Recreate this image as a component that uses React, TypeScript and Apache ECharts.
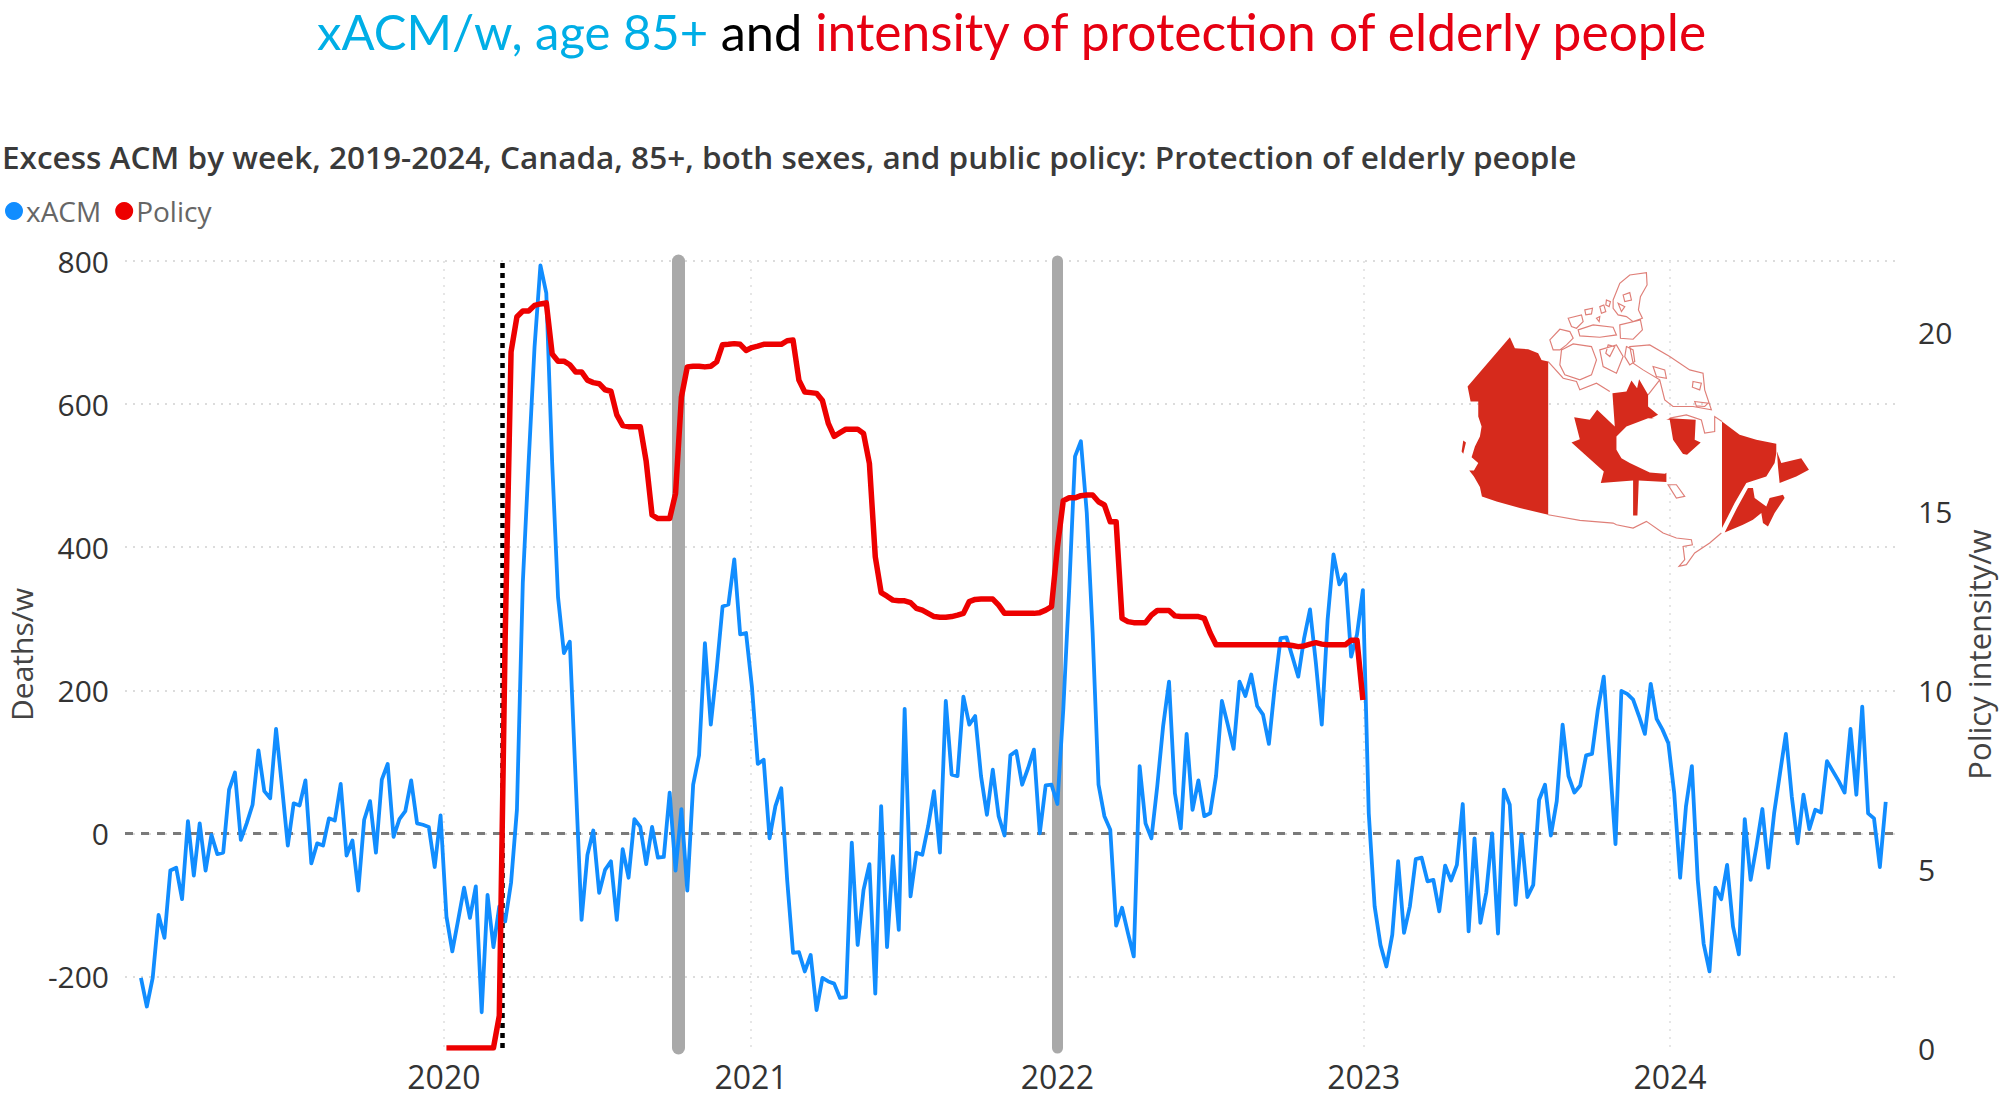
import React, { useEffect, useRef } from "react";
import * as echarts from "echarts";

const xacm = [
-202,-242,-202,-114,-146,-52,-48,-92,17,-59,14,-52,-2,-29,-27,61,85,-9,14,40,116,59,49,146,66,-17,42,39,74,-42,-14,-17,21,18,69,-31,-10,-80,19,45,-27,75,97,-5,20,31,74,14,12,9,-47,25,
-116,-165,-121,-76,-118,-74,-250,-86,-159,-102,-123,-69,33,350,520,680,794,755,518,330,252,268,74,-121,-30,4,-83,-51,-39,-121,-22,-62,20,9,-43,9,-34,-33,57,-52,34,-80,68,109,266,152,229,317,320,383,278,280,205,97,103,-7,38,63,-65,-167,-166,-193,-170,-247,-202,-207,-210,-230,-229,-13,-156,-79,-43,-224,38,-159,-32,-135,174,-88,-27,-30,10,59,-27,185,82,80,191,152,164,80,26,89,24,-3,109,115,68,91,117,0,67,68,41,
173,340,527,548,448,280,68,24,5,-129,-104,-139,-172,94,14,-7,66,150,212,56,7,139,33,74,24,28,80,185,152,118,212,192,222,178,166,125,205,273,274,247,219,273,313,238,152,299,390,348,362,247,278,340,
28,-102,-156,-186,-142,-39,-139,-102,-36,-34,-67,-65,-109,-45,-66,-44,41,-137,-7,-125,-83,0,-140,61,40,-100,-2,-89,-72,47,68,-3,45,152,80,57,67,109,111,173,219,103,-15,199,195,187,164,139,209,160,145,126,56,-62,38,94,-65,-154,-193,-76,-92,-44,-130,-169,20,-65,-18,34,-48,28,84,139,52,-14,54,6,33,29,101,87,73,57,146,54,177,28,21,-47,44,
];

const policyLead = 52;
const policy = [
0,0,0,0,0,0,0,0,0,0.9,11.5,19.46,20.44,20.6,20.6,20.76,20.8,20.83,19.4,19.2,19.2,19.1,18.9,18.9,18.67,18.6,18.57,18.4,18.36,17.7,17.4,17.37,17.37,17.37,16.4,14.9,14.8,14.8,14.8,15.5,18.2,19.04,19.06,19.06,19.04,19.06,19.18,19.66,19.67,19.69,19.67,19.5,19.58,19.62,19.67,19.67,19.67,19.67,19.77,19.79,18.67,18.34,18.32,18.3,18.1,17.46,17.1,17.2,17.3,17.3,17.3,17.18,16.34,13.73,12.73,12.63,12.52,12.5,12.5,12.45,12.29,12.24,12.15,12.06,12.04,12.04,12.06,12.1,12.15,12.48,12.54,12.55,12.55,12.55,12.38,12.15,12.15,12.15,12.15,12.15,12.15,12.17,12.24,12.34,14,15.3,15.38,15.38,15.44,15.46,15.46,15.27,15.18,14.71,14.71,12.01,11.92,11.89,11.89,11.89,12.1,12.23,12.23,12.23,12.08,12.06,12.06,12.06,12.06,12.01,11.6,11.27,11.27,11.27,11.27,11.27,11.27,11.27,11.27,11.27,11.27,11.27,11.27,11.27,11.25,11.22,11.24,11.29,11.33,11.29,11.27,11.27,11.27,11.27,11.4,11.4,9.73,
];

const firstWeek = "2019-01-05";
const yearTicks = ["2020-01-01", "2021-01-01", "2022-01-01", "2023-01-01", "2024-01-01"];
const leftTicks = [-200, 0, 200, 400, 600, 800];
const rightTicks = [0, 5, 10, 15, 20];
const onsetDate = "2020-03-11";
const greyBars = [["2020-10-06", 13], ["2022-01-01", 11]] as [string, number][];

const t = (s: string) => new Date(s + "T00:00:00Z").getTime();
const week = 7 * 86400000;
const blueData = xacm.map((v, i) => [t(firstWeek) + i * week, v]);
const redData = policy.map((v, i) => [t(firstWeek) + (i + policyLead) * week, v]);

const leftBand = "M330,262 L345,295 L385,298 L415,310 L425,330 L445,335 L445,795 L360,775 L290,755 L246,740 L240,712 L222,680 L208,662 L222,662 L235,640 L215,622 L225,590 L240,560 L245,530 L235,500 L235,455 L212,455 L203,410 Z M190,572 L198,578 L190,612 L185,605 Z";
const leaf = "M603,700 L612,665 L515,578 L540,568 L523,502 L570,510 L592,480 L645,530 L638,430 L680,425 L695,392 L712,415 L718,388 L745,435 L745,470 L775,495 L755,505 L790,515 L810,505 L888,510 L885,570 L903,578 L862,615 L840,610 L800,660 L800,697 L717,692 L713,797 L700,797 L700,692 Z";
const hudson = "M650,600 L650,560 L680,530 L745,505 L810,510 L820,570 L855,620 L840,650 L795,672 L750,668 L690,640 L665,625 Z";
const rightBand = "M967,515 L1020,555 L1070,570 L1130,582 L1130,610 L1125,640 L1100,680 L1040,700 L1005,760 L967,835 Z M975,848 L1012,775 L1045,715 L1060,715 L1065,745 L1100,770 L1110,745 L1150,735 L1155,745 L1125,790 L1105,830 L1090,820 L1085,790 L1060,810 L1030,825 Z M1132,605 L1145,640 L1205,625 L1228,660 L1190,680 L1140,700 L1135,650 Z";
const outline = "M445,795 L540,812 L640,820 L650,825 L700,835 L740,815 L790,850 L830,865 L875,870 L878,885 L850,890 L855,930 L838,950 L860,945 L885,910 L930,880 L965,850 M640,150 L660,100 L690,75 L740,68 L742,105 L722,140 L716,180 L728,205 L700,215 L680,200 L655,195 L640,175 Z M505,205 L545,195 L550,215 L530,235 L515,230 Z M535,240 L580,225 L640,232 L650,255 L600,262 L540,258 Z M660,225 L722,210 L728,240 L700,268 L662,265 Z M450,270 L480,238 L510,245 L520,265 L500,285 L480,300 L460,300 Z M485,300 L520,282 L575,290 L590,330 L575,375 L540,390 L495,375 L480,345 Z M600,300 L650,285 L670,320 L650,370 L610,350 Z M690,290 L750,285 L810,320 L870,360 L910,370 L915,420 L935,480 L880,470 L820,470 L795,450 L780,390 L730,360 L700,340 Z M445,335 L490,385 L530,395 L540,420 L590,400 L630,425 M745,435 L780,390 M810,505 L860,495 L905,510 L915,550 L945,545 L945,500 L967,515 M805,705 L830,705 L855,740 L830,745 Z M600,170 L612,165 L618,185 L605,190 Z M555,180 L578,175 L575,192 L558,195 Z M620,150 L632,155 L628,170 L618,165 Z M670,135 L690,128 L695,150 L675,155 Z M590,205 L600,200 L598,215 Z M655,160 L675,170 L665,185 Z M625,285 L645,290 L630,320 L618,310 Z M680,290 L700,300 L705,335 L690,345 L675,320 Z M760,350 L795,360 L800,385 L770,380 Z M880,395 L905,400 L900,420 L878,412 Z M885,455 L925,460 L915,470 L890,468 Z";

echarts.graphic.registerShape("caRed", echarts.graphic.extendPath(leftBand + " " + leaf + " " + rightBand, {}));
echarts.graphic.registerShape("caBay", echarts.graphic.extendPath(hudson, {}));
echarts.graphic.registerShape("caLine", echarts.graphic.extendPath(outline, {}));

export default function App() {
  const ref = useRef<HTMLDivElement>(null);
  useEffect(() => {
    document.body.style.margin = "0";
    const chart = echarts.init(ref.current!, undefined, { renderer: "svg" });
    const tickFont = { fontFamily: "Open Sans", fontSize: 30, color: "#333" };
    const mapPos = { x: 1400, y: 250, scaleX: 1 / 3, scaleY: 1 / 3 };
    const titleRun = { fontFamily: "Lato", fontWeight: "normal" };
    chart.setOption({
      animation: false,
      backgroundColor: "#fff",
      title: [
        {
          text: "{a|xACM/w, age 85+ }{b|and }{c|intensity of protection of elderly people}",
          left: 317,
          top: 5,
          padding: 0,
          textStyle: {
            rich: {
              a: { ...titleRun, fontSize: 49, color: "#00aee6" },
              b: { ...titleRun, fontSize: 50.5, color: "#000" },
              c: { ...titleRun, fontSize: 51.5, color: "#e60012" },
            },
          },
        },
        {
          text: "Excess ACM by week, 2019-2024, Canada, 85+, both sexes, and public policy: Protection of elderly people",
          left: 2,
          top: 140,
          padding: 0,
          textStyle: { fontFamily: "Open Sans", fontSize: 31.5, fontWeight: 600, color: "#3a3a3a" },
        },
      ],
      legend: {
        data: ["xACM", "Policy"],
        left: 0,
        top: 192,
        icon: "circle",
        itemWidth: 18,
        itemHeight: 18,
        itemGap: 14,
        textStyle: { fontFamily: "Open Sans", fontSize: 28, color: "#666", padding: [0, 0, 0, -2] },
      },
      grid: { left: 125, right: 100, top: 261, bottom: 64, outerBoundsMode: "none" },
      xAxis: {
        type: "value",
        min: t("2018-12-17"),
        max: t("2024-10-01"),
        axisLine: { show: false },
        axisTick: { show: false, customValues: yearTicks.map(t) },
        axisLabel: {
          ...tickFont,
          fontSize: 32,
          margin: 12,
          customValues: yearTicks.map(t),
          formatter: (v: number) => String(new Date(v).getUTCFullYear()),
        },
        splitLine: { show: true, lineStyle: { type: [2, 6], color: "#e6e6e6", width: 2 } },
      },
      yAxis: [
        {
          type: "value",
          min: -300,
          max: 800,
          name: "Deaths/w",
          nameLocation: "middle",
          nameGap: 87,
          nameTextStyle: { fontFamily: "Open Sans", fontSize: 30, color: "#444" },
          axisLine: { show: false },
          axisTick: { show: false, customValues: leftTicks },
          axisLabel: { ...tickFont, margin: 16, customValues: leftTicks },
          splitLine: { show: true, lineStyle: { type: [2, 6], color: "#dcdcdc", width: 2 } },
        },
        {
          type: "value",
          min: 0,
          max: 22,
          name: "Policy intensity/w",
          nameLocation: "middle",
          nameGap: 62,
          nameTextStyle: { fontFamily: "Open Sans", fontSize: 31, color: "#444" },
          axisLine: { show: false },
          axisTick: { show: false, customValues: rightTicks },
          axisLabel: { ...tickFont, margin: 18, customValues: rightTicks },
          splitLine: { show: false },
        },
      ],
      series: [
        {
          name: "refs",
          type: "line",
          data: [],
          z: 1,
          silent: true,
          markLine: {
            z: 1,
            silent: true,
            symbol: "none",
            label: { show: false },
            data: [
              { yAxis: 0, lineStyle: { type: [8, 8], color: "#7a7a7a", width: 3, cap: "butt" } },
              ...greyBars.map(([d, w]) => ({
                xAxis: t(d),
                lineStyle: { type: "solid", color: "#a9a9a9", width: w, cap: "round" },
              })),
              { xAxis: t(onsetDate), lineStyle: { type: [5, 5], color: "#000", width: 4.5, cap: "butt" } },
            ],
          },
        },
        {
          name: "xACM",
          type: "line",
          data: blueData,
          yAxisIndex: 0,
          showSymbol: false,
          symbol: "circle",
          z: 3,
          itemStyle: { color: "#118DFF" },
          lineStyle: { color: "#118DFF", width: 3.8, join: "round" },
        },
        {
          name: "Policy",
          type: "line",
          data: redData,
          yAxisIndex: 1,
          showSymbol: false,
          symbol: "circle",
          z: 4,
          itemStyle: { color: "#ED0000" },
          lineStyle: { color: "#ED0000", width: 5.5, join: "round" },
        },
      ],
      graphic: [
        { type: "caLine", ...mapPos, z: 10, style: { fill: "none", stroke: "#df7f78", lineWidth: 3.5 } },
        { type: "caRed", ...mapPos, z: 11, style: { fill: "#d62a1c", stroke: "none" } },
        { type: "caBay", ...mapPos, z: 12, style: { fill: "#fff", stroke: "none" } },
      ],
    });
    return () => chart.dispose();
  }, []);
  return <div ref={ref} style={{ position: "fixed", left: 0, top: 0, width: 2000, height: 1112 }} />;
}
